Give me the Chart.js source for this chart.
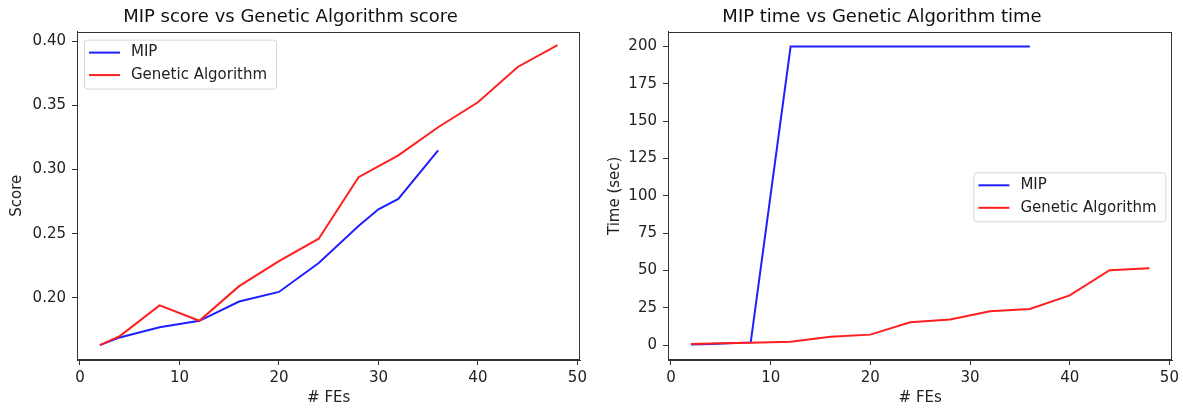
<!DOCTYPE html>
<html>
<head>
<meta charset="utf-8">
<script src="https://cdn.jsdelivr.net/npm/chart.js@4/dist/chart.umd.min.js"></script>
<style>
  body { margin: 0; background: #fff; }
  .box { position: absolute; top: 0; height: 409px; }
</style>
</head>
<body>
<div class="box" style="left:0;width:591px"><canvas id="scoreChart"></canvas></div>
<div class="box" style="left:591px;width:592px"><canvas id="timeChart"></canvas></div>
<script>
// # FEs for each method
const mipFEs = [2, 4, 8, 12, 16, 20, 24, 28, 30, 32, 36];
const gaFEs = [2, 4, 8, 12, 16, 20, 24, 28, 32, 36, 40, 44, 48];

// scores
const mipScore = [0.163, 0.169, 0.177, 0.182, 0.197, 0.2045, 0.227, 0.256, 0.269, 0.277, 0.315];
const gaScore = [0.163, 0.170, 0.194, 0.182, 0.209, 0.2285, 0.246, 0.294, 0.311, 0.333, 0.3525, 0.380, 0.397];

// run times (sec)
const mipTime = [0.3, 0.8, 1.8, 200, 200, 200, 200, 200, 200, 200, 200];
const gaTime = [0.8, 1.0, 1.6, 2.2, 5.6, 7.0, 15.3, 17.2, 22.6, 24.2, 33.3, 50.2, 51.5];

// tick labels
const xTicks = [0, 10, 20, 30, 40, 50];
const scoreTicks = [0.20, 0.25, 0.30, 0.35, 0.40];
const timeTicks = [0, 25, 50, 75, 100, 125, 150, 175, 200];

const FONT = 'DejaVu Sans';
const AXIS = '#333';

const pts = (xs, ys) => xs.map((x, i) => ({ x: x, y: ys[i] }));

// frame + legend drawn like matplotlib
const framePlugin = {
    id: 'frame',
    afterDraw(chart, args, opts) {
        const { ctx, chartArea: a } = chart;
        ctx.save();
        ctx.strokeStyle = AXIS;
        ctx.lineWidth = 1;
        ctx.strokeRect(Math.round(a.left) + 0.5, Math.round(a.top) + 0.5,
            Math.round(a.right - a.left) - 1, Math.round(a.bottom - a.top) - 1);

        // legend
        const w = 192, h = 49;
        let x0, y0;
        if (opts.where === 'right') {
            x0 = a.right - 7 - w;
            y0 = (a.top + a.bottom) / 2 - h / 2 + 1;
        } else {
            x0 = a.left + 7;
            y0 = a.top + 8;
        }
        ctx.beginPath();
        ctx.roundRect(x0 + 0.5, y0 + 0.5, w, h, 3);
        ctx.fillStyle = 'rgba(255,255,255,0.8)';
        ctx.fill();
        ctx.strokeStyle = '#d6d6d6';
        ctx.stroke();
        ctx.font = '15px "' + FONT + '"';
        ctx.textBaseline = 'middle';
        chart.data.datasets.forEach((ds, i) => {
            const yy = y0 + 13 + i * 22.5;
            ctx.beginPath();
            ctx.moveTo(x0 + 5, yy);
            ctx.lineTo(x0 + 36, yy);
            ctx.strokeStyle = ds.borderColor;
            ctx.lineWidth = 2;
            ctx.stroke();
            ctx.fillStyle = '#222';
            ctx.fillText(ds.label, x0 + 47, yy);
        });
        ctx.restore();
    }
};

function makeChart(id, title, yTitle, mipData, gaData, yMin, yMax, yTicks, yFmt, yTitlePad, legendWhere) {
    const tickFont = { family: FONT, size: 15 };
    return new Chart(document.getElementById(id), {
        type: 'line',
        data: {
            datasets: [{
                label: 'MIP',
                data: mipData,
                borderColor: '#1f1fff',
                borderWidth: 2,
                pointRadius: 0,
                tension: 0,
                order: 1
            }, {
                label: 'Genetic Algorithm',
                data: gaData,
                borderColor: '#ff1f1f',
                borderWidth: 2,
                pointRadius: 0,
                tension: 0,
                order: 0
            }]
        },
        options: {
            responsive: true,
            maintainAspectRatio: false,
            animation: false,
            layout: { padding: { left: 0, right: 10, top: 0, bottom: 0 } },
            scales: {
                x: {
                    type: 'linear',
                    min: -0.3,
                    max: 50.3,
                    afterBuildTicks: s => { s.ticks = xTicks.map(v => ({ value: v })); },
                    afterFit: s => { s.height = 49; },
                    grid: { drawOnChartArea: false, tickLength: 5, color: AXIS },
                    border: { color: AXIS },
                    ticks: { font: tickFont, color: '#222', padding: 4, maxRotation: 0 },
                    title: { display: true, text: '# FEs', font: tickFont, color: '#222', padding: { top: 0, bottom: 2 } }
                },
                y: {
                    min: yMin,
                    max: yMax,
                    afterBuildTicks: s => { s.ticks = yTicks.map(v => ({ value: v })); },
                    afterFit: s => { s.width = 77; },
                    grid: { drawOnChartArea: false, tickLength: 5, color: AXIS },
                    border: { color: AXIS },
                    ticks: { font: tickFont, color: '#222', padding: 6, callback: yFmt },
                    title: { display: true, text: yTitle, font: tickFont, color: '#222', padding: { top: yTitlePad, bottom: 0 } }
                }
            },
            plugins: {
                legend: { display: false },
                tooltip: { enabled: false },
                frame: { where: legendWhere },
                title: {
                    display: true,
                    text: title,
                    color: '#111',
                    font: { family: FONT, size: 18, weight: 'normal' },
                    padding: { top: 7, bottom: 3 }
                }
            }
        },
        plugins: [framePlugin]
    });
}

makeChart('scoreChart', 'MIP score vs Genetic Algorithm score', 'Score',
    pts(mipFEs, mipScore), pts(gaFEs, gaScore),
    0.1514, 0.4076, scoreTicks, v => v.toFixed(2), 8, 'left');

makeChart('timeChart', 'MIP time vs Genetic Algorithm time', 'Time (sec)',
    pts(mipFEs, mipTime), pts(gaFEs, gaTime),
    -10, 210, timeTicks, v => String(v), 15, 'right');
</script>
</body>
</html>
